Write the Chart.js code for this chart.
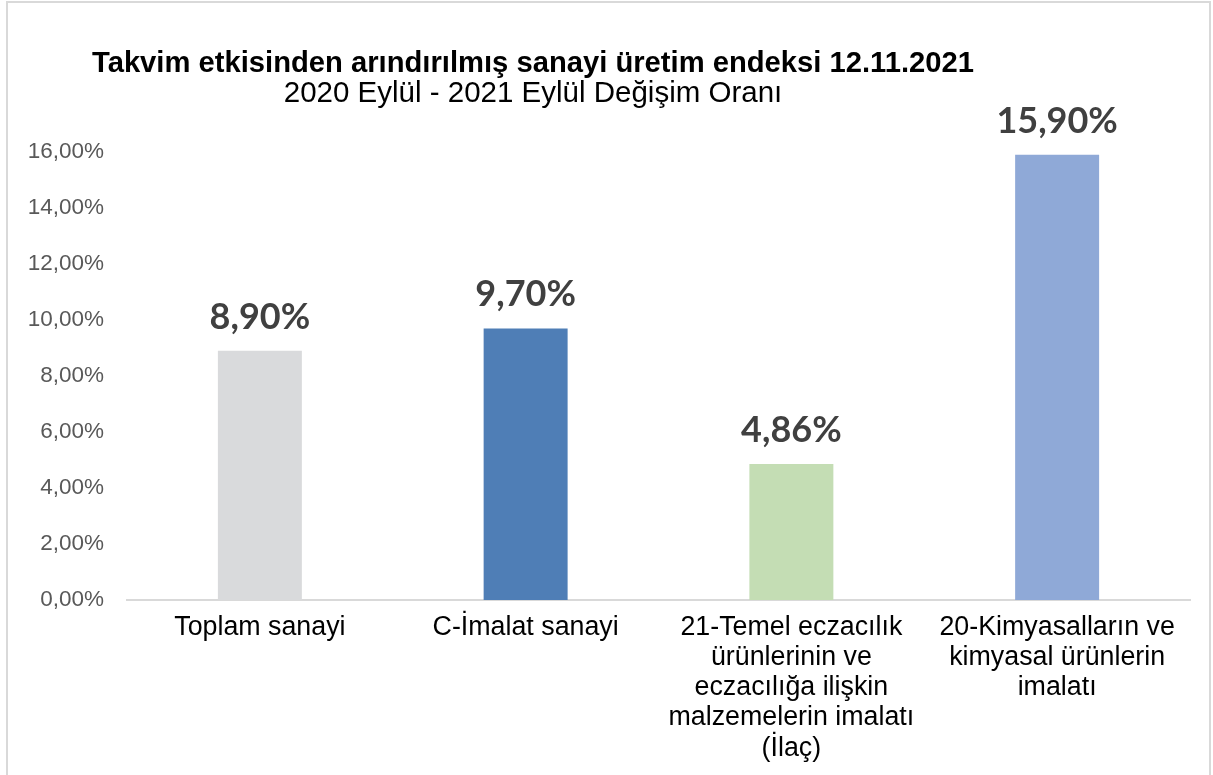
<!DOCTYPE html>
<html>
<head>
<meta charset="utf-8">
<script src="https://cdn.jsdelivr.net/npm/chart.js@4/dist/chart.umd.min.js"></script>
<style>
  html, body { margin: 0; padding: 0; background: #fff; }
  #wrap { position: absolute; left: 0; top: 0; width: 1213px; height: 775px; }
  #frame { position: absolute; left: 6px; top: 1px; width: 1205px; height: 800px; border: 2px solid #d9d9d9; box-sizing: border-box; pointer-events: none; }
</style>
</head>
<body>
<div id="wrap"><canvas id="c" width="1213" height="775"></canvas><div id="frame"></div></div>
<script>
const titleText = "Takvim etkisinden arındırılmış sanayi üretim endeksi 12.11.2021";
const subtitleText = "2020 Eylül - 2021 Eylül Değişim Oranı";
const categories = [
  ["Toplam sanayi"],
  ["C-İmalat sanayi"],
  ["21-Temel eczacılık", "ürünlerinin ve", "eczacılığa ilişkin", "malzemelerin imalatı", "(İlaç)"],
  ["20-Kimyasalların ve", "kimyasal ürünlerin", "imalatı"]
];
const values = [8.90, 9.70, 4.86, 15.90];
const barColors = ["#D9DADC", "#4F7EB6", "#C4DDB4", "#8FA9D7"];
const yTicks = [0, 2, 4, 6, 8, 10, 12, 14, 16];

const fmt = v => v.toFixed(2).replace('.', ',') + '%';

const titlePlugin = {
  id: 'titles',
  afterDraw(chart) {
    const ctx = chart.ctx;
    ctx.save();
    ctx.fillStyle = '#000';
    ctx.textAlign = 'center';
    ctx.textBaseline = 'alphabetic';
    ctx.font = 'bold 29.2px "Liberation Sans", Arial, sans-serif';
    ctx.fillText(titleText, 533, 72);
    ctx.font = '29.5px "Liberation Sans", Arial, sans-serif';
    ctx.fillText(subtitleText, 533, 102);
    ctx.restore();
  }
};

const labelPlugin = {
  id: 'barLabels',
  afterDatasetsDraw(chart) {
    const ctx = chart.ctx;
    const meta = chart.getDatasetMeta(0);
    ctx.save();
    ctx.fillStyle = '#404040';
    ctx.textAlign = 'center';
    ctx.textBaseline = 'alphabetic';
    ctx.font = 'bold 36px Lato, "Open Sans", sans-serif';
    meta.data.forEach((bar, i) => {
      ctx.fillText(fmt(values[i]), bar.x, bar.y - 22);
    });
    ctx.restore();
  }
};

new Chart(document.getElementById('c'), {
  type: 'bar',
  data: {
    labels: categories,
    datasets: [{
      data: values,
      backgroundColor: barColors,
      borderWidth: 0,
      barPercentage: 0.316,
      categoryPercentage: 1.0
    }]
  },
  options: {
    responsive: false,
    animation: false,
    layout: { padding: { left: 0, right: 23, top: 152, bottom: 0 } },
    plugins: {
      legend: { display: false },
      tooltip: { enabled: false },
      title: { display: false }
    },
    scales: {
      x: {
        grid: { display: false, drawTicks: false },
        border: { display: true, color: '#d9d9d9', width: 2 },
        ticks: {
          color: '#000',
          font: { family: '"Liberation Sans", Arial, sans-serif', size: 26.8, lineHeight: 1.13 },
          padding: 12,
          maxRotation: 0,
          autoSkip: false
        },
        afterFit(scale) { scale.height = 175; }
      },
      y: {
        min: 0,
        max: 16,
        grid: { display: false, drawTicks: false },
        border: { display: false },
        afterBuildTicks(scale) { scale.ticks = yTicks.map(v => ({ value: v })); },
        ticks: {
          color: '#595959',
          font: { family: '"Liberation Sans", Arial, sans-serif', size: 22.5 },
          padding: 23,
          callback: v => fmt(v)
        },
        afterFit(scale) { scale.width = 127; }
      }
    }
  },
  plugins: [titlePlugin, labelPlugin]
});
</script>
</body>
</html>
